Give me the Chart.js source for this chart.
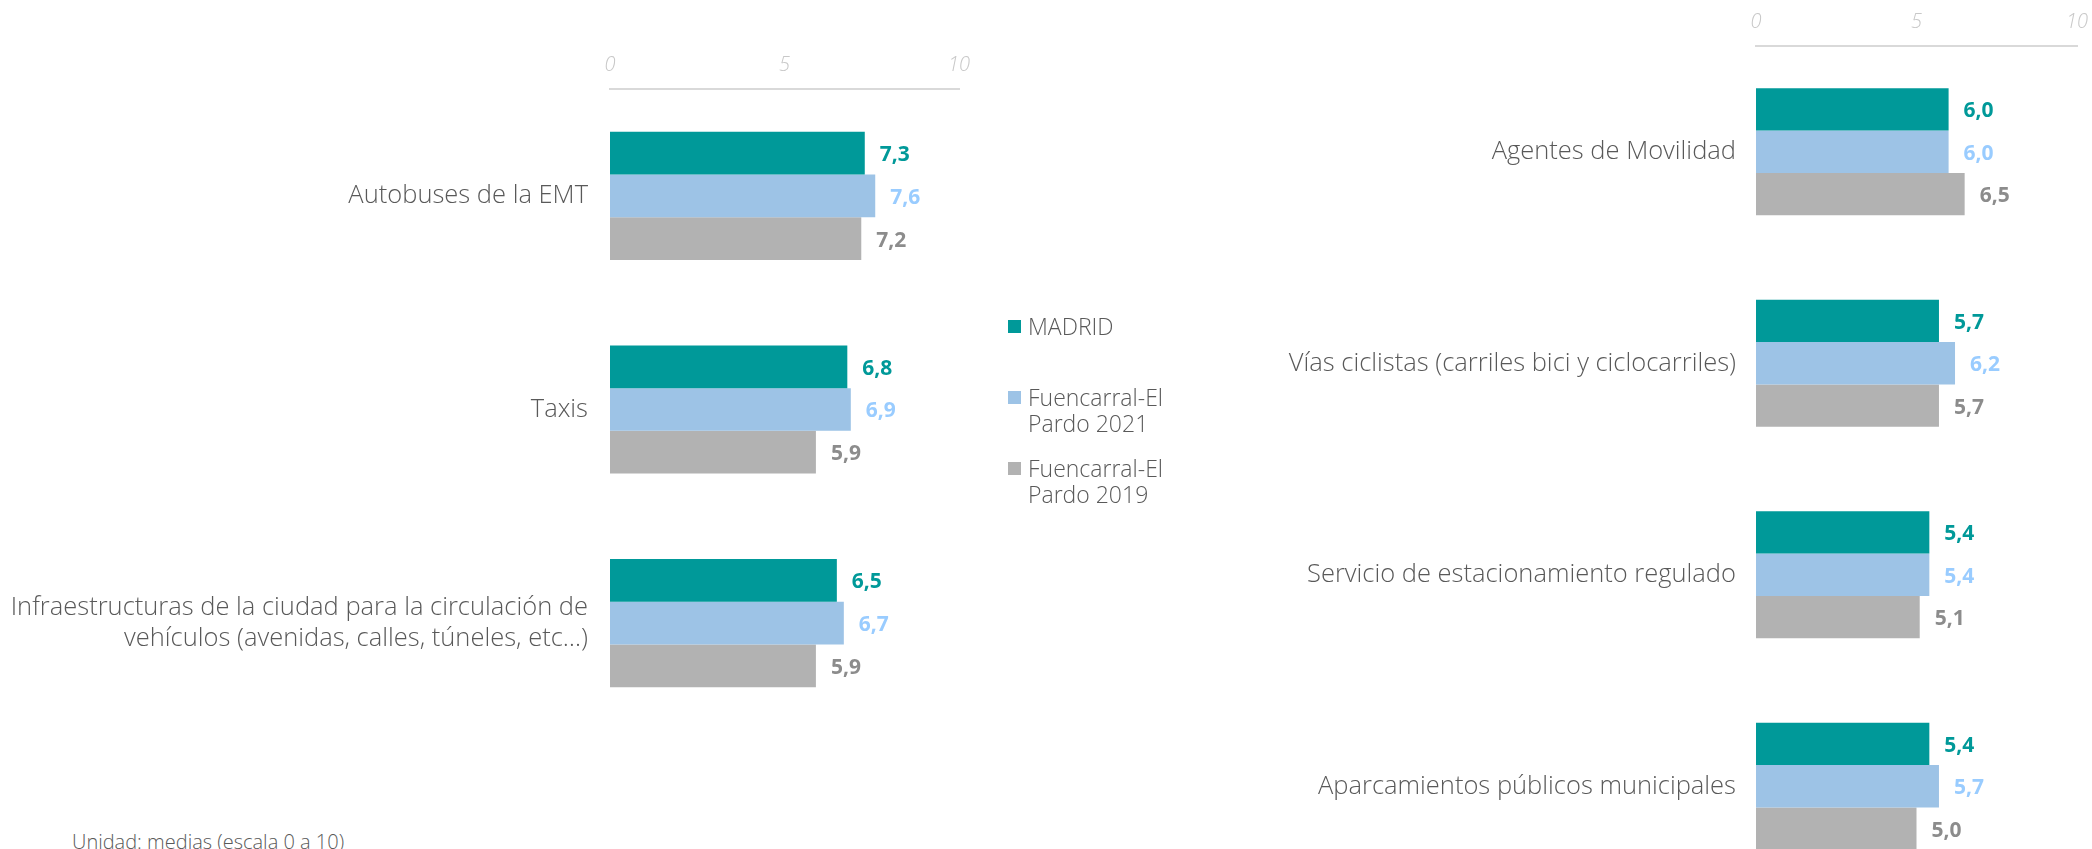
<!DOCTYPE html>
<html lang="es">
<head>
<meta charset="utf-8">
<title>Valoración de servicios de movilidad</title>
<script src="https://cdn.jsdelivr.net/npm/chart.js@4.4.1/dist/chart.umd.min.js"></script>
<style>
    html, body {
        margin: 0;
        padding: 0;
        width: 2092px;
        height: 849px;
        overflow: hidden;
        background: #ffffff;
        font-family: 'Open Sans', sans-serif;
    }
    #left-chart { position: absolute; left: 0; top: 0; }
    #right-chart { position: absolute; left: 1200px; top: 0; }
    #legend { position: absolute; left: 1008px; top: 0; }
    .legend-item {
        position: absolute;
        left: 0;
        width: 175px;
        padding-left: 20px;
        font-size: 23px;
        font-weight: 300;
        line-height: 26px;
        color: #595959;
    }
    .legend-box {
        position: absolute;
        left: 0;
        top: 7px;
        width: 13px;
        height: 13px;
    }
    #note {
        position: absolute;
        left: 72px;
        top: 829px;
        font-size: 20px;
        font-weight: 300;
        line-height: 26px;
        color: #595959;
        white-space: nowrap;
    }
</style>
</head>
<body>
<canvas id="left-chart" width="980" height="760"></canvas>
<canvas id="right-chart" width="892" height="900"></canvas>
<div id="legend"></div>
<div id="note">Unidad: medias (escala 0 a 10)</div>

<script>
// series
const seriesNames = ['MADRID', 'Fuencarral-El Pardo 2021', 'Fuencarral-El Pardo 2019'];
const barColors = ['#009999', '#9dc3e6', '#b2b2b2'];
const labelColors = ['#009999', '#99ccff', '#8c8c8c'];
const tickLabels = ['0', '5', '10'];

// panel izquierdo
const leftCategories = [
    'Autobuses de la EMT',
    'Taxis',
    ['Infraestructuras de la ciudad para la circulación de', 'vehículos (avenidas, calles, túneles, etc…)']
];
const leftMadrid = [7.3, 6.8, 6.5];
const left2021 = [7.6, 6.9, 6.7];
const left2019 = [7.2, 5.9, 5.9];

// panel derecho
const rightCategories = [
    'Agentes de Movilidad',
    'Vías ciclistas (carriles bici y ciclocarriles)',
    'Servicio de estacionamiento regulado',
    'Aparcamientos públicos municipales'
];
const rightMadrid = [6.0, 5.7, 5.4, 5.4];
const right2021 = [6.0, 6.2, 5.4, 5.7];
const right2019 = [6.5, 5.7, 5.1, 5.0];

const FONT = "'Open Sans', sans-serif";

// 7.3 -> "7,3"
function formatValue(v) {
    return v.toFixed(1).replace('.', ',');
}

// etiquetas de valor a la derecha de cada barra
const valueLabels = {
    id: 'valueLabels',
    afterDatasetsDraw(chart) {
        const ctx = chart.ctx;
        ctx.save();
        ctx.font = 'bold 21px ' + FONT;
        ctx.textBaseline = 'middle';
        ctx.textAlign = 'left';
        chart.data.datasets.forEach((ds, i) => {
            const meta = chart.getDatasetMeta(i);
            ctx.fillStyle = labelColors[i];
            meta.data.forEach((bar, j) => {
                ctx.fillText(formatValue(ds.data[j]), bar.x + 15, bar.y + 2);
            });
        });
        ctx.restore();
    }
};

function makeChart(id, categories, values, axisWidth, axisHeight, padding, labelPad) {
    return new Chart(document.getElementById(id), {
        type: 'bar',
        data: {
            labels: categories,
            datasets: values.map((data, i) => ({
                label: seriesNames[i],
                data: data,
                backgroundColor: barColors[i],
                borderWidth: 0,
                categoryPercentage: 0.6,
                barPercentage: 1.0
            }))
        },
        options: {
            indexAxis: 'y',
            responsive: false,
            animation: false,
            layout: { padding: padding },
            plugins: {
                legend: { display: false },
                tooltip: { enabled: false }
            },
            scales: {
                x: {
                    position: 'top',
                    min: 0,
                    max: 10,
                    grid: { display: false, drawTicks: false },
                    border: { display: true, color: '#d9d9d9', width: 2 },
                    ticks: {
                        stepSize: 5,
                        padding: 12,
                        maxRotation: 0,
                        color: '#c8c8c8',
                        font: { family: FONT, size: 20, style: 'italic', weight: '300' },
                        callback: (v, i) => tickLabels[i]
                    },
                    afterFit(scale) {
                        scale.height = axisHeight;
                        scale.paddingLeft = 0;
                        scale.paddingRight = 0;
                    }
                },
                y: {
                    grid: { display: false, drawTicks: false },
                    border: { display: false },
                    ticks: {
                        autoSkip: false,
                        padding: labelPad,
                        color: '#595959',
                        font: { family: FONT, size: 25.5, weight: '300' }
                    },
                    afterFit(scale) {
                        scale.width = axisWidth;
                        scale.paddingTop = 0;
                        scale.paddingBottom = 0;
                    }
                }
            }
        },
        plugins: [valueLabels]
    });
}

makeChart('left-chart', leftCategories, [leftMadrid, left2021, left2019],
    610, 89, { left: 0, top: 0, right: 21, bottom: 30 }, 22);

makeChart('right-chart', rightCategories, [rightMadrid, right2021, right2019],
    556, 46, { left: 0, top: 0, right: 15, bottom: 8 }, 20);

// leyenda central
const legendTops = [313, 384, 455];
const legend = document.getElementById('legend');
seriesNames.forEach((name, i) => {
    const item = document.createElement('div');
    item.className = 'legend-item';
    item.style.top = legendTops[i] + 'px';
    item.innerHTML = '<span class="legend-box" style="background:' + barColors[i] + '"></span>' + name;
    legend.appendChild(item);
});
</script>
</body>
</html>
